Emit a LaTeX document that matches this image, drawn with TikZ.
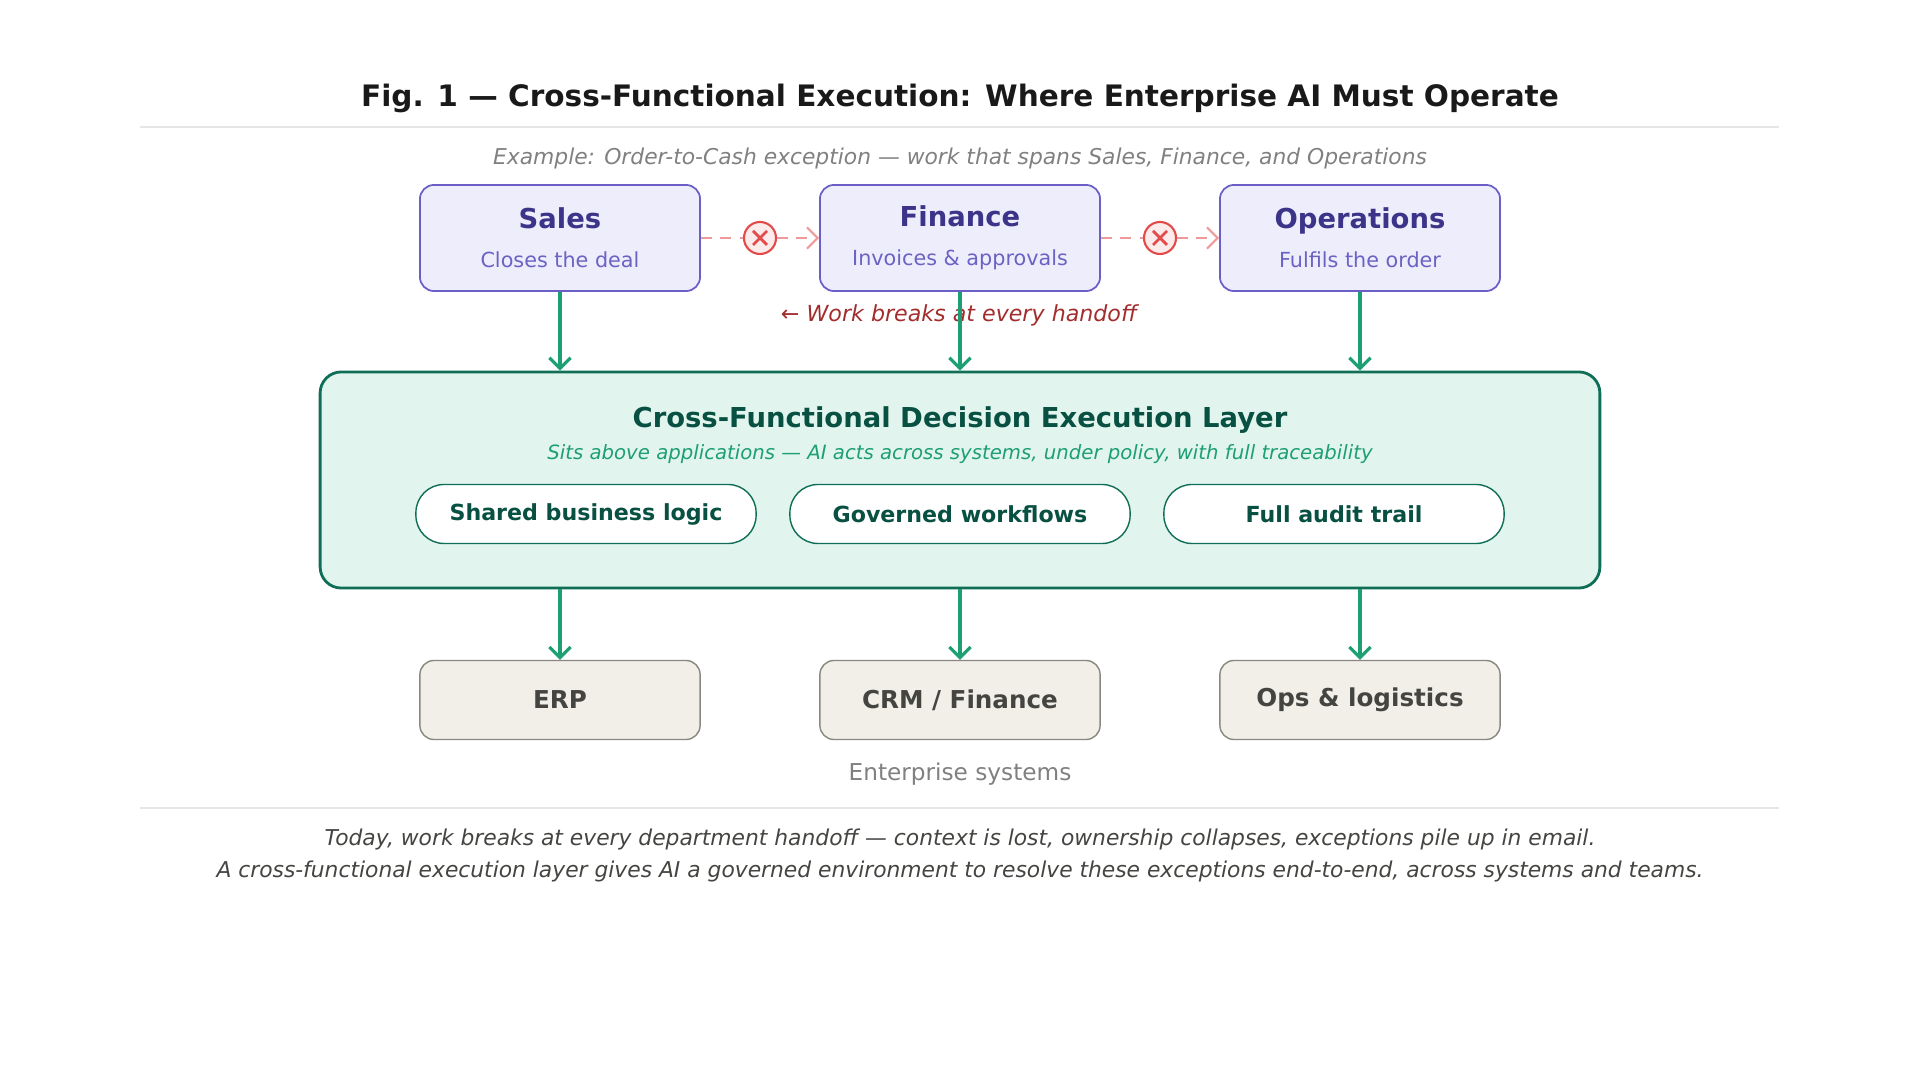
\documentclass[tikz,border=0pt]{standalone}
\usepackage{fontspec}
\setmainfont{DejaVu Sans}
\usetikzlibrary{positioning,arrows.meta}
\definecolor{deptline}{HTML}{6B5FC7}
\definecolor{deptfill}{HTML}{EEEDFC}
\definecolor{depttext}{HTML}{3C3489}
\definecolor{deptsub}{HTML}{6B62C4}
\definecolor{layerline}{HTML}{0F6E56}
\definecolor{layerfill}{HTML}{E1F5EE}
\definecolor{layertext}{HTML}{085041}
\definecolor{layersub}{HTML}{1D9E75}
\definecolor{sysline}{HTML}{888780}
\definecolor{sysfill}{HTML}{F1EFE8}
\definecolor{systext}{HTML}{444441}
\definecolor{breakred}{HTML}{E24B4A}
\definecolor{breakfill}{HTML}{FCEBEB}
\definecolor{breakdash}{HTML}{EE9A9A}
\definecolor{breaktext}{HTML}{A32D2D}
\definecolor{rulegrey}{HTML}{E6E6E6}
\tikzset{
  dept/.style={draw=deptline, fill=deptfill, rounded corners=4pt, line width=0.5pt,
    minimum width=2.8cm, minimum height=1.06cm, align=center},
  sys/.style={draw=sysline, fill=sysfill, rounded corners=4pt, line width=0.4pt,
    minimum width=2.8cm, minimum height=0.79cm, font=\fontsize{7}{8}\selectfont\bfseries, text=systext},
  pill/.style={draw=layerline, fill=white, rounded corners=8pt, line width=0.4pt,
    minimum width=3.4cm, minimum height=0.59cm, font=\fontsize{6.3}{7}\selectfont\bfseries, text=layertext},
  xmark/.style={circle, draw=breakred, fill=breakfill, line width=0.6pt, minimum size=0.32cm, inner sep=0pt},
  handoff/.style={breakdash, dash pattern=on 3pt off 2.5pt, line width=0.6pt, -{Straight Barb[length=3pt]}},
  down/.style={layersub, line width=0.9pt, -{Straight Barb[length=3pt]}}
}
\begin{document}
\begin{tikzpicture}[x=0.01cm, y=-0.01cm]
\useasboundingbox (0,0) rectangle (1920,1080);

% Title
\node[text=black!90] (title) at (960,98) {\fontsize{8.4}{10}\selectfont\bfseries Fig. 1 — Cross-Functional Execution: Where Enterprise AI Must Operate};
\draw[rulegrey, line width=0.4pt] (140,127) -- (1779,127);
\node[text=gray] (example) at (960,158) {\fontsize{6.2}{7}\selectfont\itshape Example: Order-to-Cash exception — work that spans Sales, Finance, and Operations};

% Departments
\node[dept] (sales) at (560,238) {{\fontsize{7.8}{9}\selectfont\bfseries\color{depttext}Sales}\\[-1pt]{\fontsize{5.9}{7}\selectfont\color{deptsub}Closes the deal}};
\node[dept] (finance) at (960,238) {{\fontsize{7.8}{9}\selectfont\bfseries\color{depttext}Finance}\\[-1pt]{\fontsize{5.9}{7}\selectfont\color{deptsub}Invoices \& approvals}};
\node[dept] (ops) at (1360,238) {{\fontsize{7.8}{9}\selectfont\bfseries\color{depttext}Operations}\\[-1pt]{\fontsize{5.9}{7}\selectfont\color{deptsub}Fulfils the order}};

% Broken handoffs
\node[xmark] (break1) at (760,238) {};
\node[xmark] (break2) at (1160,238) {};
\foreach \b in {break1,break2}
  \draw[breakred, line width=0.8pt] ([shift={(-7,-7)}]\b.center) -- ([shift={(7,7)}]\b.center)
    ([shift={(-7,7)}]\b.center) -- ([shift={(7,-7)}]\b.center);
\draw[breakdash, dash pattern=on 3pt off 2.5pt, line width=0.6pt] (sales) -- (break1);
\draw[handoff] (break1) -- (finance);
\draw[breakdash, dash pattern=on 3pt off 2.5pt, line width=0.6pt] (finance) -- (break2);
\draw[handoff] (break2) -- (ops);
\node[text=breaktext] (breaknote) at (959,315) {\fontsize{6.3}{7}\selectfont\itshape ← Work breaks at every handoff};

% Execution layer
\node[draw=layerline, fill=layerfill, rounded corners=6pt, line width=0.8pt,
  minimum width=12.79cm, minimum height=2.16cm] (layer) at (960,480) {};
\node[text=layertext] (layertitle) at (960,420) {\fontsize{7.8}{10}\selectfont\bfseries Cross-Functional Decision Execution Layer};
\node[text=layersub] (layersub) at (960,454) {\fontsize{5.6}{7}\selectfont\itshape Sits above applications — AI acts across systems, under policy, with full traceability};
\node[pill] (logic) at (586,514) {Shared business logic};
\node[pill] (flows) at (960,514) {Governed workflows};
\node[pill] (audit) at (1334,514) {Full audit trail};

% Enterprise systems
\node[sys] (erp) at (560,700) {ERP};
\node[sys] (crm) at (960,700) {CRM / Finance};
\node[sys] (logistics) at (1360,700) {Ops \& logistics};
\node[text=gray] (systems) at (960,774) {\fontsize{6.6}{8}\selectfont Enterprise systems};

\draw[down] (sales) -- (sales |- layer.north);
\draw[down] (finance) -- (finance |- layer.north);
\draw[down] (ops) -- (ops |- layer.north);
\draw[down] (layer.south -| erp) -- (erp);
\draw[down] (layer.south -| crm) -- (crm);
\draw[down] (layer.south -| logistics) -- (logistics);

% Footer
\draw[rulegrey, line width=0.4pt] (140,808) -- (1779,808);
\node[text=systext] (foot1) at (960,839) {\fontsize{6.2}{7}\selectfont\itshape Today, work breaks at every department handoff — context is lost, ownership collapses, exceptions pile up in email.};
\node[text=systext] (foot2) at (960,871) {\fontsize{6.2}{7}\selectfont\itshape A cross-functional execution layer gives AI a governed environment to resolve these exceptions end-to-end, across systems and teams.};
\end{tikzpicture}
\end{document}
